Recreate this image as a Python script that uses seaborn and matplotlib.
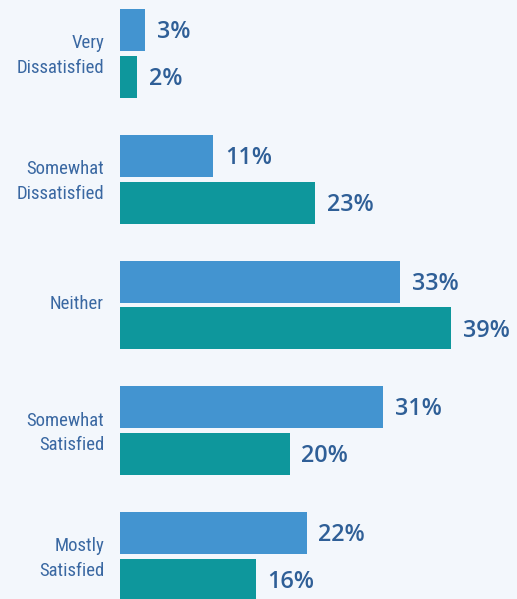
import matplotlib
matplotlib.use("Agg")
import matplotlib.pyplot as plt
import matplotlib.transforms as mtransforms
import seaborn as sns
import pandas as pd
from matplotlib import font_manager

categories = ["Very\nDissatisfied", "Somewhat\nDissatisfied", "Neither", "Somewhat\nSatisfied", "Mostly\nSatisfied"]
series_names = ["Group A", "Group B"]
values_a = [3, 11, 33, 31, 22]
values_b = [2, 23, 39, 20, 16]

BG = "#f3f7fc"
BLUE = "#4394d0"
TEAL = "#0e979c"
TXT = "#2f5f97"
CAT_TXT = "#3a68a2"

sns.set_theme(style="white")

# pick a condensed face if one is installed
cat_font = {"family": ["Roboto", "DejaVu Sans"], "stretch": "normal", "size": 12.8}
for f in font_manager.fontManager.ttflist:
    if f.name in ("Liberation Sans Narrow", "Roboto Condensed", "Open Sans Condensed"):
        cat_font = {"family": [f.name, "DejaVu Sans"], "stretch": "normal", "size": 13.5}
        break
plt.rcParams["font.family"] = ["Roboto", "DejaVu Sans"]

df = pd.DataFrame({
    "category": categories * 2,
    "series": [series_names[0]] * len(categories) + [series_names[1]] * len(categories),
    "value": values_a + values_b,
})

fig = plt.figure(figsize=(5.17, 5.99), dpi=100, facecolor=BG)
ax = fig.add_axes([120 / 517, 0, 397 / 517, 1])
ax.set_facecolor(BG)

sns.barplot(data=df, y="category", x="value", hue="series", orient="h",
            palette=[BLUE, TEAL], width=0.747, gap=0.106, ax=ax,
            legend=False, errorbar=None, saturation=1, order=categories,
            linewidth=0, edgecolor="none")

for container in ax.containers:
    anns = ax.bar_label(container, labels=[f"{v:.0f}%" for v in container.datavalues],
                        padding=8.5, color=TXT, fontsize=16.8, fontweight="semibold",
                        family=["Open Sans", "DejaVu Sans"])
    for a in anns:
        x0, y0 = a.xyann
        a.xyann = (x0, y0 - 1.6)

ax.set_xlim(0, 46.8)
ax.set_ylim(4.338, -0.4254)
ax.set_xlabel("")
ax.set_ylabel("")
ax.set_xticks([])
ax.tick_params(axis="y", length=0, pad=11.5)
shift = mtransforms.ScaledTranslation(0, 3 / 100, fig.dpi_scale_trans)
for lab in ax.get_yticklabels():
    lab.set_linespacing(1.45)
    lab.set_color(CAT_TXT)
    lab.set_fontfamily(cat_font["family"])
    lab.set_fontstretch(cat_font["stretch"])
    lab.set_fontsize(cat_font["size"])
    lab.set_transform(lab.get_transform() + shift)
for s in ax.spines.values():
    s.set_visible(False)

fig.savefig("out.png", dpi=100, facecolor=BG)
